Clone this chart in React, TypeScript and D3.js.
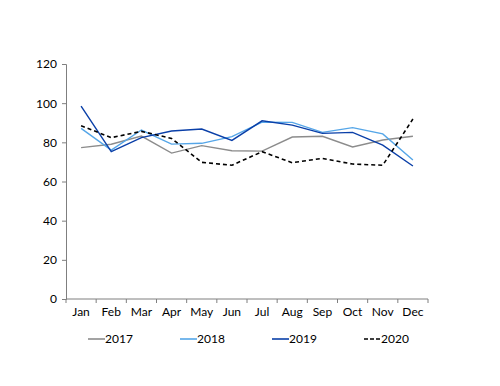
import { useEffect, useRef } from 'react'
import * as d3 from 'd3'

const months = ['Jan', 'Feb', 'Mar', 'Apr', 'May', 'Jun', 'Jul', 'Aug', 'Sep', 'Oct', 'Nov', 'Dec']
const yTicks = [0, 20, 40, 60, 80, 100, 120]

const s2017 = [77.3, 79, 83.2, 74.5, 78.3, 75.7, 75.5, 82.7, 83.1, 77.6, 81.2, 83.1]
const s2018 = [87.1, 76, 86.3, 79.1, 79.5, 82.9, 90.3, 90.2, 85.1, 87.5, 84.3, 71]
const s2019 = [98.5, 75.2, 82.4, 85.8, 86.8, 81, 91, 88.8, 84.6, 85.1, 78.6, 67.9]
const s2020 = [88.5, 82.4, 85.6, 82, 69.8, 68.3, 75.2, 69.6, 71.8, 68.9, 68.3, 91.9]

const series = [
  { name: '2017', values: s2017, color: '#8c8c8c', dash: '' },
  { name: '2018', values: s2018, color: '#55a6e8', dash: '' },
  { name: '2019', values: s2019, color: '#0a3fa8', dash: '' },
  { name: '2020', values: s2020, color: '#000000', dash: '4 3' },
]

const W = 500
const H = 386
const M = { top: 64, left: 66, right: 72, bottom: 87 }
const FONT = 'Lato, Liberation Sans, Arial, sans-serif'

export default function App() {
  const ref = useRef<SVGSVGElement>(null)

  useEffect(() => {
    if (!ref.current) return
    const svg = d3.select(ref.current)
    svg.selectAll('*').remove()

    const x = d3.scaleBand().domain(months).range([M.left, W - M.right])
    const y = d3.scaleLinear().domain([0, 120]).range([H - M.bottom, M.top])

    // y axis
    const yAxis = svg.append('g')
      .attr('transform', `translate(${M.left},0)`)
      .call(d3.axisLeft(y).tickValues(yTicks).tickSize(4).tickPadding(5))
    yAxis.select('.domain').attr('stroke', '#7f7f7f')
    yAxis.selectAll('.tick line').attr('stroke', '#7f7f7f')
    yAxis.selectAll('.tick text')
      .attr('fill', '#000')
      .attr('font-size', 12)
      .attr('font-family', FONT)

    // x axis: ticks at band edges
    const xAxisG = svg.append('g').attr('transform', `translate(0,${H - M.bottom})`)
    xAxisG.append('line')
      .attr('x1', M.left).attr('x2', W - M.right)
      .attr('stroke', '#7f7f7f')
    const edges = months.map((m) => x(m) as number).concat([W - M.right])
    xAxisG.selectAll('line.edge')
      .data(edges)
      .join('line')
      .attr('class', 'edge')
      .attr('x1', (d) => d).attr('x2', (d) => d)
      .attr('y1', 0).attr('y2', 4)
      .attr('stroke', '#7f7f7f')
    xAxisG.selectAll('text')
      .data(months)
      .join('text')
      .attr('x', (d) => (x(d) as number) + x.bandwidth() / 2)
      .attr('y', 17)
      .attr('text-anchor', 'middle')
      .attr('font-size', 12)
      .attr('font-family', FONT)
      .attr('fill', '#000')
      .text((d) => d)

    const line = d3.line<number>()
      .x((_, i) => (x(months[i]) as number) + x.bandwidth() / 2)
      .y((d) => y(d))

    series.forEach((s) => {
      svg.append('path')
        .datum(s.values)
        .attr('d', line)
        .attr('fill', 'none')
        .attr('stroke', s.color)
        .attr('stroke-width', s.name === '2020' ? 1.6 : 1.4)
        .attr('stroke-dasharray', s.dash || null)
    })

    // legend
    const lg = svg.append('g').attr('transform', `translate(88,339)`)
    series.forEach((s, i) => {
      const gx = i * 92
      lg.append('line')
        .attr('x1', gx).attr('x2', gx + 17)
        .attr('stroke', s.color)
        .attr('stroke-width', 1.6)
        .attr('stroke-dasharray', s.dash ? '4 2' : null)
      lg.append('text')
        .attr('x', gx + 17)
        .attr('y', 4)
        .attr('font-size', 12)
        .attr('font-family', FONT)
        .attr('fill', '#000')
        .text(s.name)
    })
  }, [])

  return (
    <svg
      ref={ref}
      width={W}
      height={H}
      style={{ position: 'absolute', left: 0, top: 0, background: '#fff' }}
    />
  )
}
